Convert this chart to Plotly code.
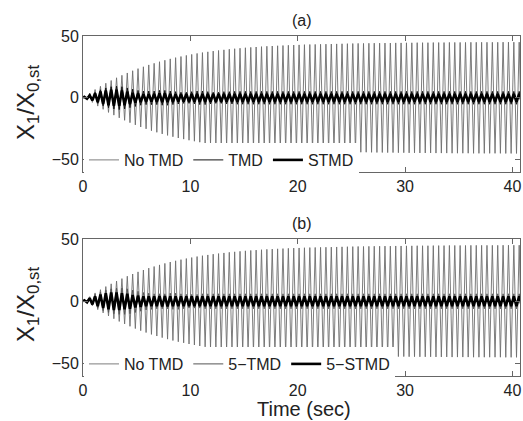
import plotly.graph_objects as go

# ---- data ----
# per-cycle peak amplitudes (one value per oscillation cycle, 0.5 s each)
period = 0.5
no_tmd = [0.8, 3.7, 6.7, 9.3, 11.8, 14.0, 16.2, 18.2, 20.1, 21.9,
          23.6, 25.1, 26.6, 27.9, 29.2, 30.4, 31.5, 32.5, 33.4, 34.3,
          35.1, 35.9, 36.6, 37.2, 37.8, 38.3, 38.8, 39.3, 39.7, 40.1,
          40.5, 40.8, 41.1, 41.4, 41.7, 41.9, 42.1, 42.3, 42.5, 42.7,
          42.8, 43.0, 43.1, 43.2, 43.3, 43.4, 43.5, 43.6, 43.7, 43.8,
          43.9, 44.0, 44.0, 44.1, 44.2, 44.2, 44.3, 44.3, 44.4, 44.4,
          44.5, 44.5, 44.6, 44.6, 44.6, 44.7, 44.7, 44.7, 44.8, 44.8,
          44.8, 44.8, 44.9, 44.9, 44.9, 44.9, 44.9, 44.9, 45.0, 45.0,
          45.0, 45.0]
tmd = [1.0, 2.5, 4.5, 6.5, 8.0, 9.0, 9.5, 9.0, 8.0, 7.0, 6.0, 5.5, 5.5, 5.5,
       6.0, 6.0, 5.5, 5.0, 4.5, 4.5, 5.0, 5.5, 5.5, 5.0, 4.5, 4.5, 5.0, 5.0] + [5.2] * 54
stmd = [0.8, 2.0, 3.5, 5.0, 6.0, 6.5, 6.5, 6.0, 5.0, 4.0, 3.5, 3.0, 3.0, 3.2,
        3.5, 3.5, 3.2, 3.0, 3.0] + [3.2] * 63
tmd5 = [1.0, 3.0, 5.5, 7.5, 9.0, 10.0, 10.5, 10.5, 10.0, 9.0, 8.0, 7.0, 6.5, 6.0,
        6.0, 6.0, 6.5, 6.5, 6.0, 5.5, 5.5, 5.5, 6.0, 6.0] + [6.0] * 58
stmd5 = [0.8, 2.5, 4.0, 5.5, 6.5, 7.0, 7.0, 6.5, 6.0, 5.0, 4.5, 4.0, 4.0, 4.0,
         4.2, 4.2, 4.0] + [4.0] * 65

x_ticks = [0, 10, 20, 30, 40]
y_ticks = [-50, 0, 50]


def zigzag(peaks):
    xs, ys = [0.0], [0.0]
    for k, a in enumerate(peaks):
        xs += [k * period + period / 4, k * period + 3 * period / 4]
        ys += [a, -a]
    return xs, ys


W, H = 523, 421
fig = go.Figure()

series_a = [("No TMD", no_tmd, "#6e6e6e", 0.9),
            ("TMD", tmd, "#111111", 1.0),
            ("STMD", stmd, "#000000", 2.6)]
series_b = [("No TMD", no_tmd, "#6e6e6e", 0.9),
            ("5\u2212TMD", tmd5, "#555555", 1.0),
            ("5\u2212STMD", stmd5, "#000000", 2.6)]

for name, pk, col, w in series_a:
    xs, ys = zigzag(pk)
    fig.add_trace(go.Scatter(x=xs, y=ys, mode="lines", name=name,
                             line=dict(color=col, width=w),
                             xaxis="x", yaxis="y", legend="legend"))
for name, pk, col, w in series_b:
    xs, ys = zigzag(pk)
    fig.add_trace(go.Scatter(x=xs, y=ys, mode="lines", name=name,
                             line=dict(color=col, width=w),
                             xaxis="x2", yaxis="y2", legend="legend2"))

axcommon = dict(showline=True, linecolor="#666", linewidth=1, mirror="ticks",
                ticks="inside", ticklen=5, tickcolor="#666", showgrid=False,
                zeroline=False, automargin=False, tickfont=dict(size=16, color="#222"))
xd = [83 / W, 520 / W]


def note(text, xp, yp, size, angle=0):
    return dict(text=text, x=xp / W, y=1 - yp / H, xref="paper", yref="paper",
                xanchor="center", yanchor="middle", showarrow=False,
                textangle=angle, font=dict(size=size))


fig.update_layout(
    width=W, height=H, margin=dict(l=0, r=0, t=0, b=0, pad=0, autoexpand=False),
    paper_bgcolor="white", plot_bgcolor="white",
    font=dict(family="Liberation Sans, Arial, sans-serif", color="#222"),
    xaxis=dict(domain=xd, range=[0, 40.7], tickvals=x_ticks, anchor="y", **axcommon),
    xaxis2=dict(domain=xd, range=[0, 40.7], tickvals=x_ticks, anchor="y2", **axcommon),
    yaxis=dict(domain=[1 - 172 / H, 1 - 36 / H], range=[-60, 50], tickvals=y_ticks,
               anchor="x", **axcommon),
    yaxis2=dict(domain=[1 - 376 / H, 1 - 239 / H], range=[-60, 50], tickvals=y_ticks,
                anchor="x2", **axcommon),
    legend=dict(orientation="h", x=84 / W, xanchor="left", y=1 - 160 / H, yanchor="middle",
                bgcolor="white", font=dict(size=16, color="#222"), itemwidth=30),
    legend2=dict(orientation="h", x=84 / W, xanchor="left", y=1 - 364 / H, yanchor="middle",
                 bgcolor="white", font=dict(size=16, color="#222"), itemwidth=30),
    annotations=[
        note("(a)", 301.5, 20, 16),
        note("(b)", 301.5, 223, 16),
        note("Time (sec)", 304, 409, 20),
        note("X<sub>1</sub>/X<sub>0,st</sub>", 27, 103, 24, -90),
        note("X<sub>1</sub>/X<sub>0,st</sub>", 27, 305, 24, -90),
    ],
)

fig.write_html("out.html")
